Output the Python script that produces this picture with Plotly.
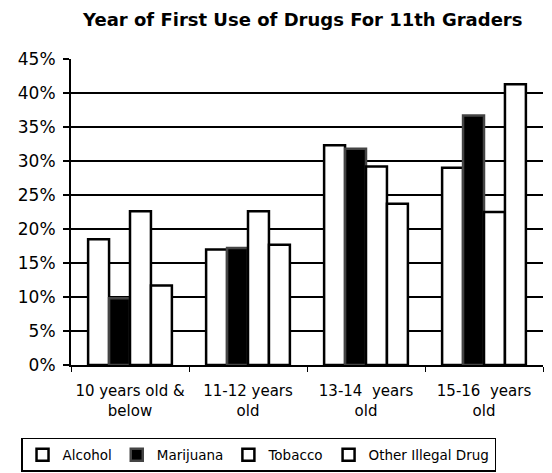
import plotly.graph_objects as go

categories = ["10 years old &<br>below", "11-12 years<br>old", "13-14  years<br>old", "15-16  years<br>old"]
alcohol = [18.5, 17.0, 32.3, 29.0]
marijuana = [9.8, 17.2, 31.8, 36.7]
tobacco = [22.6, 22.6, 29.2, 22.5]
other_drug = [11.7, 17.7, 23.7, 41.3]
y_ticks = [0, 5, 10, 15, 20, 25, 30, 35, 40, 45]
y_tick_labels = ["0%", "5%", "10%", "15%", "20%", "25%", "30%", "35%", "40%", "45%"]

series = [
    ("Alcohol", alcohol, "white", "black"),
    ("Marijuana", marijuana, "black", "#444444"),
    ("Tobacco", tobacco, "white", "black"),
    ("Other Illegal Drug", other_drug, "white", "black"),
]

fig = go.Figure()
for name, vals, fill, line in series:
    fig.add_trace(go.Bar(
        name=name, x=categories, y=vals,
        marker=dict(color=fill, line=dict(color=line, width=2.5)),
    ))

font_family = "'DejaVu Sans', sans-serif"
fig.update_layout(
    width=552, height=473,
    paper_bgcolor="white", plot_bgcolor="white",
    margin=dict(l=63, r=17, t=51, b=116, autoexpand=False),
    barmode="group", bargap=0.29, bargroupgap=0,
    title=dict(text="Year of First Use of Drugs For 11th Graders",
               xref="container", x=0.534, xanchor="center",
               yref="container", y=0.975, yanchor="middle",
               font=dict(family=font_family, size=18, color="black", weight="bold")),
    font=dict(family=font_family, size=14, color="black"),
    legend=dict(orientation="h", xref="container", x=0.0236, xanchor="left",
                yref="container", y=0.091, yanchor="top",
                bordercolor="black", borderwidth=1.5, bgcolor="white",
                font=dict(family=font_family, size=13.5, color="black"),
                itemwidth=30, traceorder="normal", tracegroupgap=0),
    showlegend=True,
)
fig.update_yaxes(range=[0, 45], tickvals=y_ticks, ticktext=y_tick_labels,
                 showgrid=True, gridcolor="black", gridwidth=1.5,
                 showline=True, linecolor="black", linewidth=2,
                 ticks="outside", ticklen=6, tickcolor="black", tickwidth=1.5,
                 ticklabelstandoff=4,
                 tickfont=dict(size=17), zeroline=False, automargin=False)
fig.update_xaxes(showline=True, linecolor="black", linewidth=2,
                 ticks="outside", tickson="boundaries", ticklen=5, tickcolor="black",
                 ticklabelstandoff=11, tickangle=0,
                 tickfont=dict(size=15), showgrid=False, automargin=False)

fig.write_html("out.html")
